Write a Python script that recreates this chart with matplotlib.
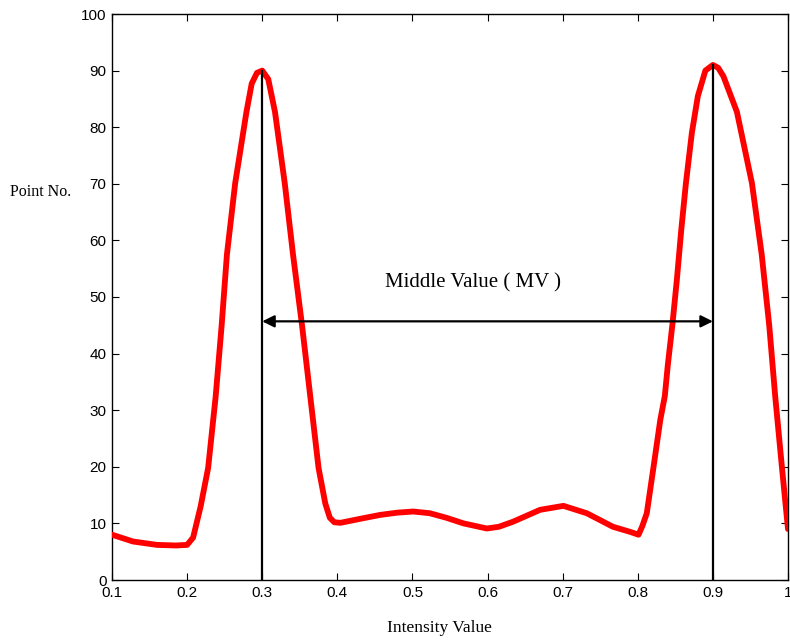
import matplotlib
matplotlib.use("Agg")
import matplotlib.pyplot as plt

# curve (intensity value, point no.)
intensity = [0.100, 0.128, 0.160, 0.185, 0.200, 0.208, 0.218, 0.228, 0.238, 0.246,
             0.253, 0.264, 0.279, 0.286, 0.293, 0.300, 0.308, 0.317, 0.330, 0.341,
             0.353, 0.364, 0.375, 0.384, 0.390, 0.396, 0.404, 0.430, 0.457, 0.480,
             0.501, 0.523, 0.545, 0.568, 0.599, 0.615, 0.634, 0.670, 0.701, 0.732,
             0.767, 0.790, 0.801, 0.806, 0.812, 0.821, 0.830, 0.836, 0.840, 0.846,
             0.852, 0.858, 0.864, 0.872, 0.880, 0.890, 0.900, 0.907, 0.914, 0.932,
             0.952, 0.965, 0.975, 0.983, 0.992, 1.000]
point_no = [8.0, 6.8, 6.2, 6.1, 6.2, 7.5, 13.0, 19.8, 32.4, 45.0,
            57.5, 70.1, 82.7, 87.7, 89.6, 90.0, 88.5, 82.7, 70.1, 57.5,
            45.0, 32.4, 19.8, 13.5, 11.0, 10.2, 10.1, 10.8, 11.5, 11.9,
            12.1, 11.8, 11.0, 10.0, 9.1, 9.4, 10.3, 12.4, 13.1, 11.8,
            9.4, 8.5, 8.0, 9.5, 11.8, 20.0, 28.3, 32.5, 38.0, 45.0,
            53.0, 62.0, 70.0, 79.0, 85.5, 90.0, 91.0, 90.5, 89.0, 82.7,
            70.1, 57.5, 45.0, 32.4, 19.8, 9.0]

peaks_x = [0.3, 0.9]
peaks_y = [90, 91]
mv_level = 45.7
xticks = [0.1, 0.2, 0.3, 0.4, 0.5, 0.6, 0.7, 0.8, 0.9, 1]
xtick_labels = ["0.1", "0.2", "0.3", "0.4", "0.5", "0.6", "0.7", "0.8", "0.9", "1"]
yticks = list(range(0, 101, 10))

fig = plt.figure(figsize=(7.9, 6.43), dpi=100)
ax = fig.add_axes([112 / 790, 63 / 643, 676 / 790, 566 / 643])

ax.plot(intensity, point_no, color="red", lw=4.2, solid_capstyle="round",
        solid_joinstyle="round", zorder=3)

for px, py in zip(peaks_x, peaks_y):
    ax.plot([px, px], [0, py], color="black", lw=1.6, zorder=4)

ax.annotate("", xy=(peaks_x[0], mv_level), xytext=(peaks_x[1], mv_level),
            arrowprops=dict(arrowstyle="<|-|>", color="black", lw=1.6,
                            mutation_scale=18, shrinkA=0, shrinkB=0), zorder=5)
ax.text(0.581, 52.5, "Middle Value ( MV )", ha="center", va="center",
        fontsize=15, family="Liberation Serif")

ax.set_xlim(0.1, 1)
ax.set_ylim(0, 100)
ax.set_xticks(xticks)
ax.set_xticklabels(xtick_labels)
ax.set_yticks(yticks)
ax.tick_params(direction="in", top=True, right=True, length=5, width=0.8,
               labelsize=11, pad=4)
for lab in ax.get_xticklabels() + ax.get_yticklabels():
    lab.set_family("Liberation Sans")
for s in ax.spines.values():
    s.set_linewidth(1.0)

ax.set_xlabel("Intensity Value", family="Liberation Serif", fontsize=12.5)
ax.xaxis.set_label_coords(0.485, -0.071)
ax.set_ylabel("Point No.", family="Liberation Serif", fontsize=11.5, rotation=0)
ax.yaxis.set_label_coords(-0.105, 0.671)

fig.savefig("out.png", dpi=100)
